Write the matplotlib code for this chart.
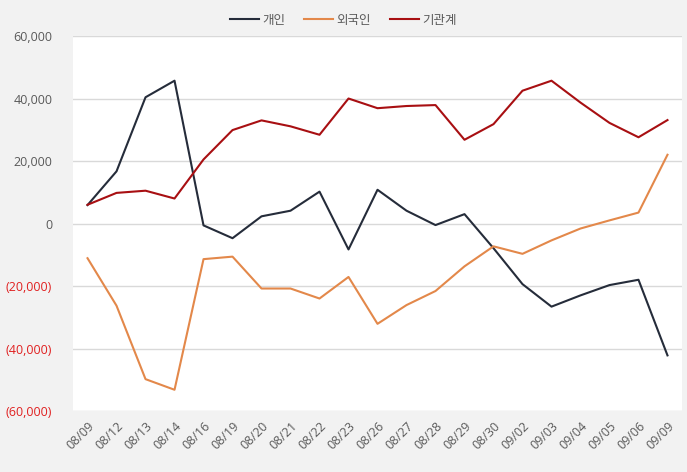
import matplotlib
matplotlib.use("Agg")
import matplotlib.pyplot as plt
from matplotlib.ticker import FuncFormatter

plt.rcParams['font.family'] = ['Open Sans', 'Noto Sans CJK KR', 'DejaVu Sans']

dates = ["08/09", "08/12", "08/13", "08/14", "08/16", "08/19", "08/20", "08/21",
         "08/22", "08/23", "08/26", "08/27", "08/28", "08/29", "08/30", "09/02",
         "09/03", "09/04", "09/05", "09/06", "09/09"]
individual = [5900, 16700, 40400, 45700, -600, -4700, 2300, 4100, 10200, -8300,
              10800, 4100, -500, 3000, -7900, -19400, -26600, -23000, -19700, -18000, -42200]
foreign = [-11100, -26300, -49800, -53200, -11400, -10600, -20800, -20800, -24000, -17100,
           -32100, -26100, -21600, -13700, -7300, -9700, -5400, -1600, 1000, 3500, 22000]
institution = [6000, 9800, 10500, 8000, 20500, 29900, 33000, 31100, 28400, 40000,
               36900, 37600, 37900, 26800, 31800, 42500, 45700, 38700, 32200, 27600, 33100]
series_names = ["개인", "외국인", "기관계"]
colors = ["#252c3a", "#e3884a", "#a80f12"]

fig = plt.figure(figsize=(6.87, 4.72), dpi=100, facecolor="#f2f2f2")
ax = fig.add_axes([0.1063, 0.1292, 0.8864, 0.7945])
ax.set_facecolor("white")

x = list(range(len(dates)))
for name, vals, c in zip(series_names, [individual, foreign, institution], colors):
    ax.plot(x, vals, color=c, linewidth=1.5, label=name)

ax.set_xlim(-0.5, len(dates) - 0.5)
ax.set_ylim(-60000, 60000)
ax.set_yticks(range(-60000, 60001, 20000))
ax.yaxis.set_major_formatter(FuncFormatter(
    lambda v, p: f"{v:,.0f}" if v >= 0 else f"({-v:,.0f})"))
ax.grid(axis="y", color="#d9d9d9", linewidth=1)
ax.set_axisbelow(True)
for s in ax.spines.values():
    s.set_visible(False)
ax.tick_params(axis="both", length=0, labelsize=9, colors="#595959")
ax.tick_params(axis="y", pad=15)
for lbl, v in zip(ax.get_yticklabels(), ax.get_yticks()):
    if v < 0:
        lbl.set_color("#e02020")

ax.set_xticks(x)
ax.set_xticklabels(dates, rotation=45, ha="right", rotation_mode="anchor")
ax.tick_params(axis="x", pad=6)

fig.legend(loc="upper center", bbox_to_anchor=(0.5, 0.995), ncol=3, frameon=False,
           fontsize=9, handlelength=2.3, columnspacing=1.5, handletextpad=0.3,
           labelcolor="#595959")

fig.savefig("out.png", dpi=100, facecolor=fig.get_facecolor())
